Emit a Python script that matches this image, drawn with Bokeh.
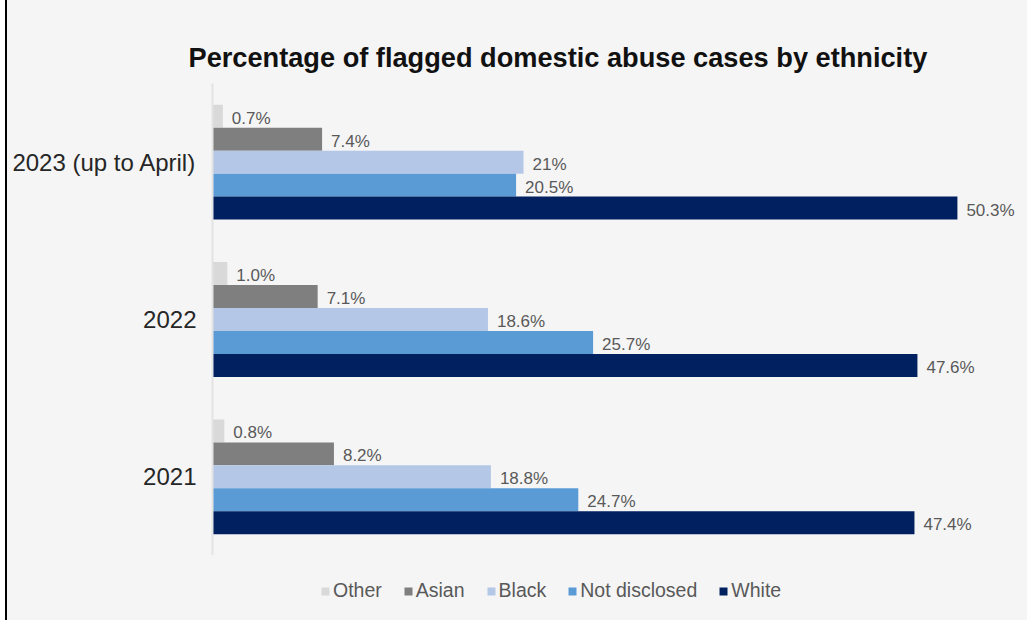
from bokeh.plotting import figure
from bokeh.models import ColumnDataSource, FactorRange, Range1d, Legend, LegendItem, Spacer
from bokeh.layouts import row, column
from bokeh.transform import dodge
from bokeh.core.properties import value
from bokeh.embed import file_html
from bokeh.resources import INLINE

years = ["2021", "2022", "2023 (up to April)"]
ethnicities = ["Other", "Asian", "Black", "Not disclosed", "White"]
other = [0.8, 1.0, 0.7]
asian = [8.2, 7.1, 7.4]
black = [18.8, 18.6, 21]
not_disclosed = [24.7, 25.7, 20.5]
white = [47.4, 47.6, 50.3]
other_labels = ["0.8%", "1.0%", "0.7%"]
asian_labels = ["8.2%", "7.1%", "7.4%"]
black_labels = ["18.8%", "18.6%", "21%"]
not_disclosed_labels = ["24.7%", "25.7%", "20.5%"]
white_labels = ["47.4%", "47.6%", "50.3%"]

series_values = [other, asian, black, not_disclosed, white]
series_labels = [other_labels, asian_labels, black_labels, not_disclosed_labels, white_labels]
colors = ["#d9d9d9", "#7f7f7f", "#b4c7e7", "#5b9bd5", "#002060"]
bar_h = 0.146
offsets = [2 * bar_h, bar_h, 0.0, -bar_h, -2 * bar_h]

FONT = "Liberation Sans"
BG = "#f5f5f5"

p = figure(frame_width=808, frame_height=472, y_range=FactorRange(*years, range_padding=0),
           x_range=Range1d(0, 54.56), output_backend="svg", toolbar_location=None,
           min_border_left=205, min_border_right=7, min_border_top=78, min_border_bottom=0)
p.background_fill_color = BG
p.border_fill_color = BG
p.outline_line_color = None
p.xgrid.visible = False
p.ygrid.visible = False
p.xaxis.visible = False

p.yaxis.axis_line_color = "#e3e3e3"
p.yaxis.axis_line_width = 2
p.yaxis.major_tick_line_color = None
p.yaxis.minor_tick_line_color = None
p.yaxis.major_tick_out = 0
p.yaxis.major_tick_in = 0
p.yaxis.major_label_standoff = 16
p.yaxis.major_label_text_font = FONT
p.yaxis.major_label_text_font_size = "24px"
p.yaxis.major_label_text_color = "#262626"

p.title.text = "Percentage of flagged domestic abuse cases by ethnicity"
p.title.text_font = FONT
p.title.text_font_size = "27.2px"
p.title.text_font_style = "bold"
p.title.text_color = "#111111"
p.title.align = "left"
p.title.offset = -24
p.title.standoff = 21

for name, vals, labs, col, off in zip(ethnicities, series_values, series_labels, colors, offsets):
    src = ColumnDataSource(dict(year=years, v=vals, lab=labs))
    p.hbar(y=dodge("year", off, range=p.y_range), right="v", left=0, height=bar_h,
           source=src, fill_color=col, line_color=None)
    p.text(x="v", y=dodge("year", off, range=p.y_range), text="lab", source=src,
           x_offset=9, y_offset=2, text_baseline="middle", text_align="left",
           text_font=value(FONT), text_font_size="17px", text_color="#595959")

# legend strip below the chart (swatches use zero-length dummy bars)
pl = figure(width=1020, height=65, output_backend="svg", toolbar_location=None,
            x_axis_location=None, y_axis_location=None,
            min_border_left=0, min_border_right=0, min_border_top=0, min_border_bottom=0)
pl.background_fill_color = BG
pl.border_fill_color = BG
pl.outline_line_color = None
pl.xgrid.visible = False
pl.ygrid.visible = False
items = []
for name, col in zip(ethnicities, colors):
    r = pl.hbar(y=[0], right=[0], left=[0], height=1, fill_color=col, line_color=None)
    items.append(LegendItem(label=name, renderers=[r]))

legend = Legend(items=items, orientation="horizontal", location=(108, 18))
legend.padding = 0
legend.margin = 0
legend.spacing = 21
legend.border_line_alpha = 0
legend.background_fill_alpha = 0
legend.glyph_width = 10
legend.glyph_height = 10
legend.label_standoff = 3
legend.label_text_font = FONT
legend.label_text_font_size = "19.5px"
legend.label_text_color = "#595959"
pl.add_layout(legend, "center")

layout = row(Spacer(width=5, height=620),
             Spacer(width=2, height=620, styles={"background-color": "black"}),
             column(Spacer(width=1020, height=5), p, pl, styles={"background-color": BG}))

open("out.html", "w").write(file_html(layout, INLINE))
